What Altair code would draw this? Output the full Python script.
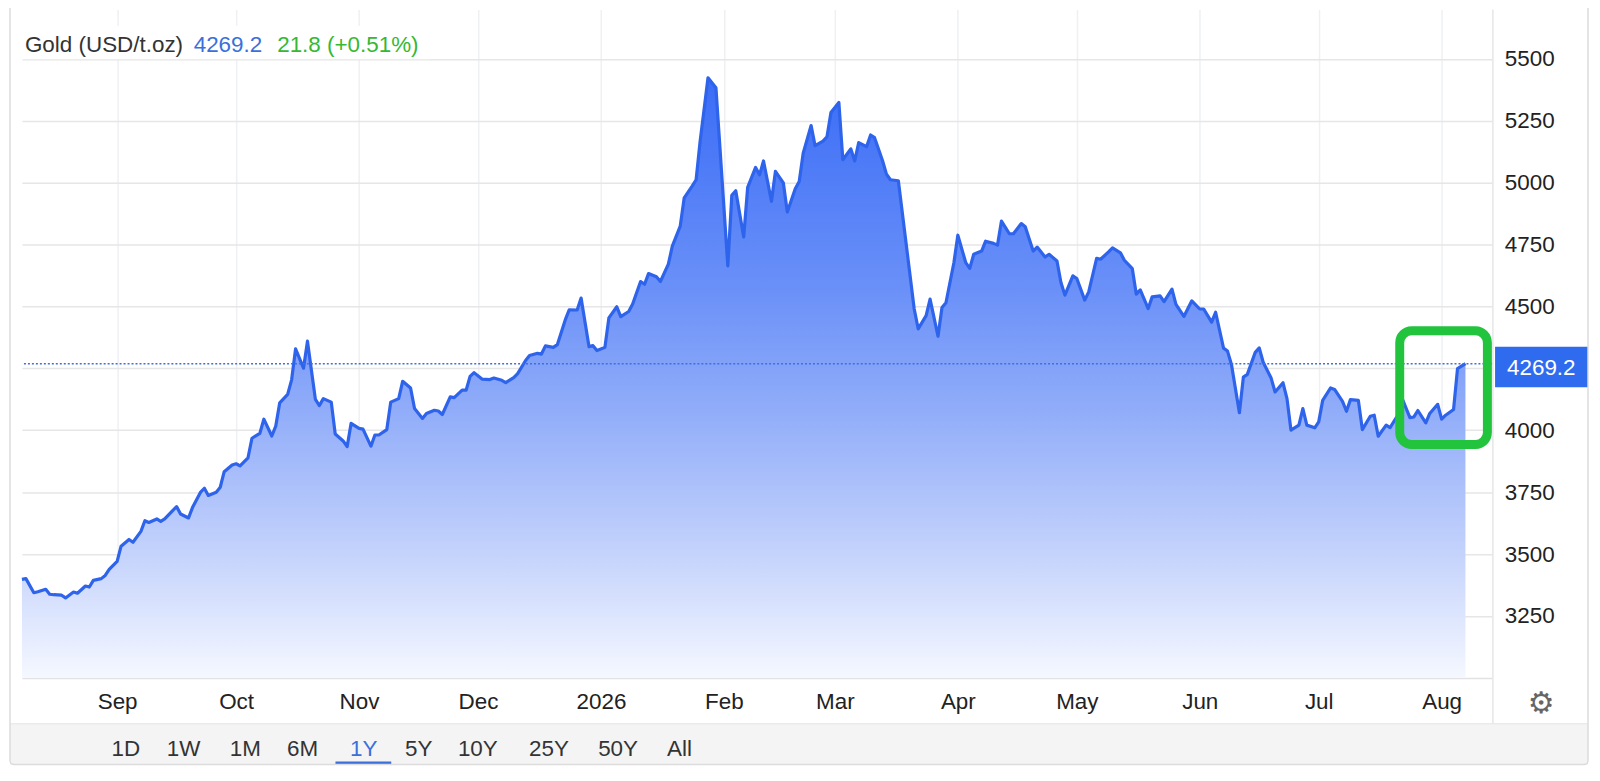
import altair as alt
import pandas as pd

# ---------------- data ----------------
dates = [
    "2025-08-08", "2025-08-09", "2025-08-11", "2025-08-12", "2025-08-14", "2025-08-15", "2025-08-16", "2025-08-18", "2025-08-19", "2025-08-21", "2025-08-22", "2025-08-24", "2025-08-25", "2025-08-26", "2025-08-28", "2025-08-29", "2025-08-30",
    "2025-09-01", "2025-09-02", "2025-09-04", "2025-09-05", "2025-09-07", "2025-09-08", "2025-09-09", "2025-09-11", "2025-09-12", "2025-09-13", "2025-09-15", "2025-09-16", "2025-09-17", "2025-09-19", "2025-09-20", "2025-09-22", "2025-09-23", "2025-09-24", "2025-09-26", "2025-09-27", "2025-09-28", "2025-09-30",
    "2025-10-01", "2025-10-02", "2025-10-04", "2025-10-05", "2025-10-07", "2025-10-08", "2025-10-10", "2025-10-11", "2025-10-12", "2025-10-14", "2025-10-15", "2025-10-16", "2025-10-18", "2025-10-19", "2025-10-21", "2025-10-22", "2025-10-23", "2025-10-25", "2025-10-26", "2025-10-28", "2025-10-29", "2025-10-30",
    "2025-11-01", "2025-11-02", "2025-11-04", "2025-11-05", "2025-11-06", "2025-11-08", "2025-11-09", "2025-11-11", "2025-11-12", "2025-11-14", "2025-11-15", "2025-11-17", "2025-11-18", "2025-11-20", "2025-11-21", "2025-11-22", "2025-11-24", "2025-11-25", "2025-11-27", "2025-11-28", "2025-11-29", "2025-11-30",
    "2025-12-02", "2025-12-04", "2025-12-05", "2025-12-07", "2025-12-08", "2025-12-10", "2025-12-11", "2025-12-13", "2025-12-14", "2025-12-16", "2025-12-17", "2025-12-18", "2025-12-20", "2025-12-21", "2025-12-23", "2025-12-24", "2025-12-26", "2025-12-27", "2025-12-29", "2025-12-30", "2025-12-31",
    "2026-01-02", "2026-01-03", "2026-01-05", "2026-01-06", "2026-01-08", "2026-01-09", "2026-01-11", "2026-01-12", "2026-01-13", "2026-01-15", "2026-01-16", "2026-01-18", "2026-01-19", "2026-01-21", "2026-01-22", "2026-01-24", "2026-01-25", "2026-01-26", "2026-01-28", "2026-01-30",
    "2026-02-02", "2026-02-03", "2026-02-04", "2026-02-06", "2026-02-07", "2026-02-09", "2026-02-10", "2026-02-11", "2026-02-13", "2026-02-14", "2026-02-16", "2026-02-17", "2026-02-19", "2026-02-20", "2026-02-21", "2026-02-23", "2026-02-24", "2026-02-26", "2026-02-27", "2026-02-28",
    "2026-03-02", "2026-03-03", "2026-03-05", "2026-03-06", "2026-03-07", "2026-03-09", "2026-03-10", "2026-03-11", "2026-03-13", "2026-03-14", "2026-03-15", "2026-03-17", "2026-03-21", "2026-03-22", "2026-03-24", "2026-03-25", "2026-03-27", "2026-03-28", "2026-03-29", "2026-03-31",
    "2026-04-01", "2026-04-03", "2026-04-04", "2026-04-05", "2026-04-07", "2026-04-08", "2026-04-10", "2026-04-11", "2026-04-12", "2026-04-14", "2026-04-15", "2026-04-17", "2026-04-18", "2026-04-20", "2026-04-21", "2026-04-23", "2026-04-24", "2026-04-26", "2026-04-27", "2026-04-28", "2026-04-30",
    "2026-05-01", "2026-05-03", "2026-05-04", "2026-05-06", "2026-05-07", "2026-05-09", "2026-05-10", "2026-05-12", "2026-05-13", "2026-05-15", "2026-05-16", "2026-05-17", "2026-05-19", "2026-05-20", "2026-05-22", "2026-05-23", "2026-05-25", "2026-05-26", "2026-05-28", "2026-05-30",
    "2026-06-01", "2026-06-02", "2026-06-04", "2026-06-05", "2026-06-07", "2026-06-08", "2026-06-09", "2026-06-11", "2026-06-12", "2026-06-13", "2026-06-15", "2026-06-16", "2026-06-17", "2026-06-19", "2026-06-20", "2026-06-22", "2026-06-23", "2026-06-24", "2026-06-26", "2026-06-27", "2026-06-28", "2026-06-30",
    "2026-07-01", "2026-07-02", "2026-07-04", "2026-07-05", "2026-07-07", "2026-07-08", "2026-07-09", "2026-07-11", "2026-07-12", "2026-07-14", "2026-07-15", "2026-07-16", "2026-07-18", "2026-07-19", "2026-07-21", "2026-07-22", "2026-07-24", "2026-07-25", "2026-07-26", "2026-07-28", "2026-07-29", "2026-07-31",
    "2026-08-01", "2026-08-02", "2026-08-04", "2026-08-05", "2026-08-07",
]

prices = [
    3398, 3401, 3344, 3348, 3358, 3338, 3336, 3334, 3323, 3347, 3342, 3371, 3367, 3394, 3401, 3414, 3438,
    3471, 3532, 3559, 3548, 3592, 3635, 3628, 3642, 3632, 3642, 3676, 3692, 3662, 3646, 3688, 3749, 3766, 3737, 3750, 3770, 3833, 3860,
    3865, 3856, 3889, 3968, 3988, 4045, 3977, 4017, 4111, 4145, 4204, 4329, 4251, 4360, 4125, 4100, 4128, 4114, 3985, 3957, 3934, 4028,
    4008, 4005, 3936, 3981, 3981, 4003, 4114, 4128, 4198, 4171, 4088, 4048, 4068, 4081, 4078, 4064, 4135, 4132, 4162, 4162, 4218, 4233,
    4207, 4205, 4211, 4202, 4193, 4213, 4229, 4282, 4302, 4311, 4308, 4341, 4335, 4346, 4446, 4487, 4486, 4534, 4338, 4342, 4322,
    4335, 4454, 4499, 4459, 4480, 4510, 4601, 4590, 4633, 4620, 4601, 4671, 4744, 4825, 4939, 4986, 5012, 5166, 5424, 5384,
    4664, 4949, 4968, 4781, 4981, 5062, 5032, 5088, 4925, 5046, 4999, 4882, 4976, 5005, 5119, 5231, 5150, 5168, 5186, 5284,
    5324, 5093, 5137, 5088, 5162, 5146, 5193, 5182, 5090, 5035, 5012, 5008, 4490, 4410, 4463, 4530, 4380, 4496, 4515, 4677,
    4788, 4677, 4654, 4711, 4724, 4764, 4755, 4748, 4845, 4794, 4794, 4835, 4822, 4724, 4740, 4700, 4711, 4684, 4597, 4546, 4624,
    4613, 4526, 4559, 4695, 4691, 4721, 4737, 4717, 4687, 4653, 4550, 4567, 4492, 4539, 4543, 4520, 4570, 4509, 4460, 4523,
    4490, 4490, 4437, 4477, 4332, 4320, 4266, 4071, 4215, 4226, 4315, 4333, 4275, 4211, 4155, 4192, 4128, 4001, 4021, 4088, 4021, 4010,
    4034, 4121, 4171, 4165, 4117, 4077, 4124, 4121, 4003, 4057, 4061, 3976, 4021, 4011, 4063, 4130, 4051, 4054, 4080, 4030, 4068, 4105,
    4045, 4061, 4084, 4249, 4269.2,
]

y_ticks = [3250, 3500, 3750, 4000, 4250, 4500, 4750, 5000, 5250, 5500]
hidden_y_label = 4250  # covered by the last-price marker in the reference
month_starts = ["2025-09-01", "2025-10-01", "2025-11-01", "2025-12-01", "2026-01-01", "2026-02-01",
                "2026-03-01", "2026-04-01", "2026-05-01", "2026-06-01", "2026-07-01", "2026-08-01"]
month_labels = ["Sep", "Oct", "Nov", "Dec", "2026", "Feb", "Mar", "Apr", "May", "Jun", "Jul", "Aug"]
range_labels = ["1D", "1W", "1M", "6M", "1Y", "5Y", "10Y", "25Y", "50Y", "All"]
active_range = "1Y"
instrument = "Gold (USD/t.oz)"
day_change = 21.8

# ---------------- derived ----------------
df = pd.DataFrame({"date": pd.to_datetime(dates), "price": prices})
last_price = prices[-1]
pct = day_change / (last_price - day_change) * 100
price_txt = f"{last_price:.1f}"
change_txt = f"{day_change:.1f} (+{pct:.2f}%)"

FONT = "Liberation Sans"
FS = 22.5
BLUE_LINE = "#2e63eb"
BLUE_TXT = "#3a6fdc"
BLUE_BOX = "#2f6bef"
GREEN_TXT = "#33b933"
GREEN_BOX = "#22c43e"

W, H = 1476, 671
one = pd.DataFrame({"k": [0]})

x_scale = alt.Scale(domain=[alt.DateTime(year=2025, month=8, date=8),
                            alt.DateTime(year=2026, month=8, date=13, hours=19)])
y_scale = alt.Scale(domain=[3000, 5700], nice=False, zero=False)

tick_vals = [alt.DateTime(year=int(s[:4]), month=int(s[5:7]), date=int(s[8:10])) for s in month_starts]
label_arr = "[" + ",".join(f"'{m}'" for m in month_labels) + "]"
label_expr = f"{label_arr}[(year(datum.value)-2025)*12 + month(datum.value) - 8]"

x_axis = alt.Axis(values=tick_vals, labelExpr=label_expr, title=None, grid=True,
                  gridColor="#eff0f3", gridWidth=1.5, ticks=False, tickSize=0,
                  domain=True, domainColor="#e2e2e2", domainWidth=1.5,
                  labelFont=FONT, labelFontSize=FS, labelColor="#222222",
                  labelPadding=24, labelBaseline="middle", labelAngle=0,
                  labelOverlap=False, labelFlush=False)
y_axis = alt.Axis(orient="right", values=y_ticks, format="d", title=None, grid=True,
                  labelExpr=f"datum.value == {hidden_y_label} ? '' : datum.label",
                  gridColor="#e6e6e6", gridWidth=1.5, ticks=False, tickSize=0,
                  domain=False, labelFont=FONT, labelFontSize=FS, labelColor="#222222",
                  labelAlign="left", labelBaseline="middle", labelPadding=12)

x_enc = alt.X("date:T", scale=x_scale, axis=x_axis)
y_enc = alt.Y("price:Q", scale=y_scale, axis=y_axis)

gradient = alt.Gradient(
    gradient="linear", x1=0, x2=0, y1=0, y2=1,
    stops=[alt.GradientStop(offset=0, color="#3a6cf6"),
           alt.GradientStop(offset=0.35, color="#6a90f8"),
           alt.GradientStop(offset=0.55, color="#90acf9"),
           alt.GradientStop(offset=0.8, color="#c6d4fc"),
           alt.GradientStop(offset=1, color="#f5f8ff")])

base = alt.Chart(df).encode(x=x_enc, y=y_enc)
area = base.mark_area(color=gradient).encode(y2=alt.datum(3000))
line = base.mark_line(color=BLUE_LINE, strokeWidth=3.2, strokeJoin="round")

last_df = pd.DataFrame({"price": [last_price]})
last_rule = alt.Chart(last_df).mark_rule(color="#3d6fe6", strokeDash=[2, 2], strokeWidth=1.5).encode(y=y_enc)


def box(x, x2, y, y2, **kw):
    return alt.Chart(one).mark_rect(**kw).encode(
        x=alt.value(x), x2=alt.value(x2), y=alt.value(y), y2=alt.value(y2))


def label(txt, x, y, color, align="left", size=FS, font=FONT):
    return alt.Chart(one).mark_text(text=txt, align=align, baseline="middle", font=font,
                                    fontSize=size, color=color).encode(
        x=alt.value(x), y=alt.value(y))


gray_bar = box(-12, 1572, 717, 758, color="#f4f4f4")
bar_sep = alt.Chart(one).mark_rule(color="#e6e6e6", strokeWidth=1).encode(
    x=alt.value(-12), x2=alt.value(1572), y=alt.value(717))
right_sep = alt.Chart(one).mark_rule(color="#e6e6e6", strokeWidth=1.5).encode(
    x=alt.value(1476.5), y=alt.value(0), y2=alt.value(717))
card = box(-12, 1572, -20, 758, fill="white", fillOpacity=0, stroke="#dcdcdc",
           strokeWidth=1.5, cornerRadius=4)

title_bg = box(-12, 410, 16.5, 50, color="white")
t1 = label(instrument, 3, 35.7, "#333333")
t2 = label(price_txt, 172.4, 35.7, BLUE_TXT)
t3 = label(change_txt, 256.2, 35.7, GREEN_TXT)

price_box = box(1478.7, 1572, 338.7, 379.3, color=BLUE_BOX)
price_lbl = label(price_txt, 1490.7, 360.3, "white")

green = box(1383, 1471, 322.5, 436.7, fill="white", fillOpacity=0, stroke=GREEN_BOX,
            strokeWidth=9, cornerRadius=12)

gear = label("\u2699", 1525, 697, "#666666", align="center", size=30, font="DejaVu Sans")

btn_x = [104.3, 162.2, 224.3, 281.8, 343, 398.3, 457.6, 529, 598.4, 660]
buttons = [label(r, bx, 742.5, BLUE_TXT if r == active_range else "#333333", align="center")
           for r, bx in zip(range_labels, btn_x)]
act_i = range_labels.index(active_range)
underline = box(btn_x[act_i] - 28.3, btn_x[act_i] + 27.7, 755, 758, color=BLUE_TXT)

chart = alt.layer(
    gray_bar, bar_sep, area, line, last_rule, title_bg, t1, t2, t3,
    price_box, price_lbl, green, right_sep, gear, *buttons, underline, card,
).properties(
    width=W, height=H,
    autosize=alt.AutoSizeParams(type="none"),
    padding={"left": 14, "top": 0, "right": 100, "bottom": 87},
    background="white",
).configure_view(strokeWidth=0)

chart.save("out.html", embed_options={"renderer": "svg", "actions": False})
